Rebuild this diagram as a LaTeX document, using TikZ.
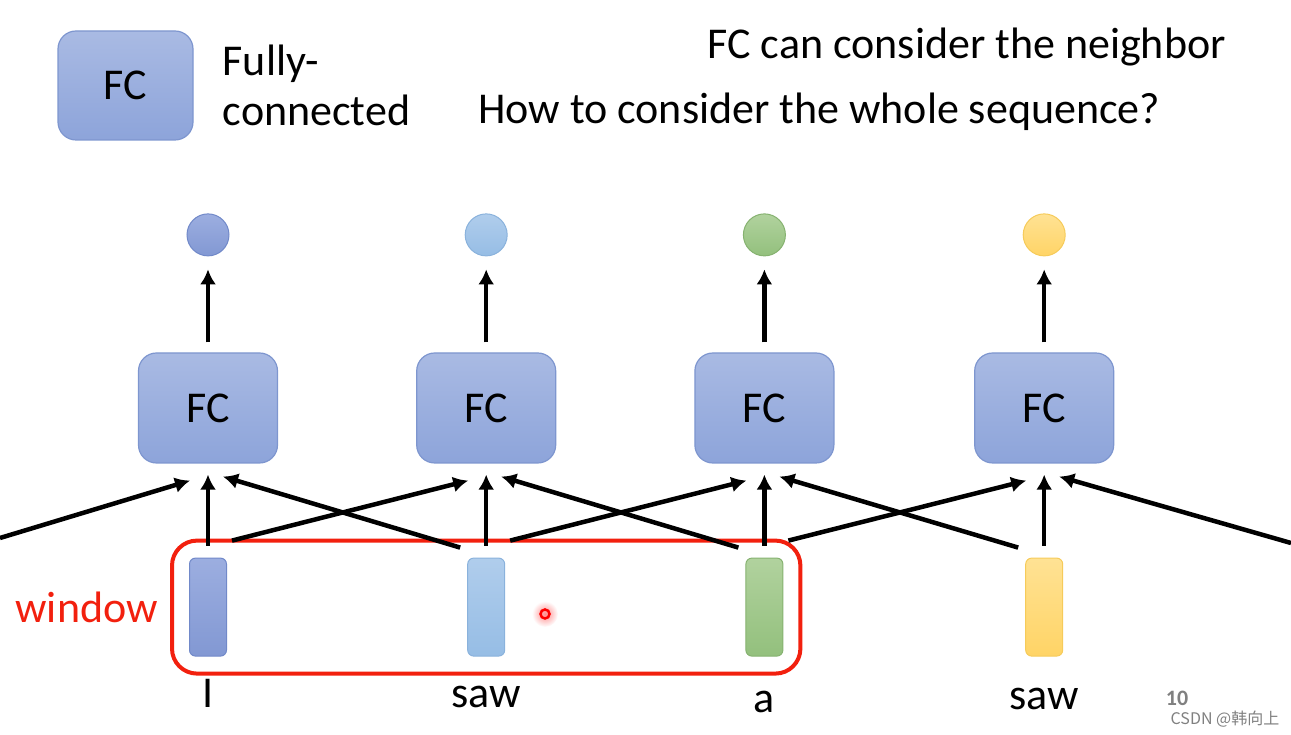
\documentclass[tikz,border=0pt]{standalone}
\usepackage{fontspec}
\setmainfont{Carlito}
\newfontfamily\cjkfont{Noto Sans CJK SC}
\usepackage{tikz}
\usetikzlibrary{positioning,fit,arrows.meta}
\definecolor{fctop}{HTML}{A9BAE3}
\definecolor{fcbot}{HTML}{8DA4DA}
\definecolor{fcline}{HTML}{7E96CF}
\definecolor{bluetop}{HTML}{9CAEE0}
\definecolor{bluebot}{HTML}{8298D3}
\definecolor{blueline}{HTML}{7189C9}
\definecolor{skytop}{HTML}{B0CDEC}
\definecolor{skybot}{HTML}{96BDE5}
\definecolor{skyline}{HTML}{8AB2DC}
\definecolor{greentop}{HTML}{B1D29E}
\definecolor{greenbot}{HTML}{93C07D}
\definecolor{greenline}{HTML}{86B270}
\definecolor{yellowtop}{HTML}{FFE294}
\definecolor{yellowbot}{HTML}{FFD466}
\definecolor{yellowline}{HTML}{F6CB5A}
\definecolor{winred}{HTML}{F2200E}

\begin{document}
\begin{tikzpicture}[x=1pt, y=1pt]
\tikzstyle{big}=[font=\fontsize{44}{50}\selectfont]
\tikzstyle{fc}=[rectangle, rounded corners=18pt, draw=fcline, line width=1.2pt,
                top color=fctop, bottom color=fcbot, big,
                minimum width=139pt, minimum height=110pt]
\tikzstyle{outdot}=[circle, inner sep=0pt, minimum size=42pt, line width=1pt]
\tikzstyle{vec}=[rectangle, rounded corners=6pt, inner sep=0pt,
                 minimum width=37pt, minimum height=98pt, line width=1pt]
\tikzstyle{wire}=[line width=4.5pt, -{Latex[length=15pt,width=16pt]}]
\tikzstyle{word}=[big, anchor=base, inner sep=0pt]
\useasboundingbox (0,0) rectangle (1291,735);

% legend and questions
\node[fc, minimum width=135pt, minimum height=109pt] (key) at (125.5,649.5) {FC};
\node[big, right=29pt of key, align=left, inner sep=0pt] (keytext) {Fully-\\connected};
\node[big, anchor=base east, inner sep=0pt] (q1) at (1226,676) {FC can consider the neighbor};
\node[big, anchor=base west, inner sep=0pt] (q2) at (478,611) {How to consider the whole sequence?};

% FC layers, outputs, inputs
\node[fc] (fc1) at (208,327) {FC};
\node[fc, right=138pt of fc1] (fc2) {FC};
\node[fc, right=138pt of fc2] (fc3) {FC};
\node[fc, right=139.6pt of fc3] (fc4) {FC};
\node[outdot, draw=blueline, top color=bluetop, bottom color=bluebot, above=96pt of fc1] (o1) {};
\node[outdot, draw=skyline, top color=skytop, bottom color=skybot, above=96pt of fc2] (o2) {};
\node[outdot, draw=greenline, top color=greentop, bottom color=greenbot, above=96pt of fc3] (o3) {};
\node[outdot, draw=yellowline, top color=yellowtop, bottom color=yellowbot, above=96pt of fc4] (o4) {};
\node[vec, draw=blueline, top color=bluetop, bottom color=bluebot, below=94pt of fc1] (v1) {};
\node[vec, draw=skyline, top color=skytop, bottom color=skybot, below=94pt of fc2] (v2) {};
\node[vec, draw=greenline, top color=greentop, bottom color=greenbot, below=94pt of fc3] (v3) {};
\node[vec, draw=yellowline, top color=yellowtop, bottom color=yellowbot, below=94pt of fc4] (v4) {};
\node[word] (w1) at (208,27) {I};
\node[word] (w2) at (486,27) {saw};
\node[word] (w3) at (764,22) {a};
\node[word] (w4) at (1044,25) {saw};

% window
\node[draw=winred, line width=4pt, rounded corners=25pt, inner sep=17pt, fit=(v1)(v3)] (win) {};
\node[big, text=winred, left=12pt of win, inner sep=0pt] (wintext) {window};
\node[circle, inner sep=0pt, minimum size=26pt, inner color=red!45, outer color=white] (glow) at (545,121) {};
\node[circle, draw=red, line width=2.5pt, inner sep=0pt, minimum size=9pt] (dot) at (glow) {};

% connections
\draw[wire] ([yshift=10pt]fc1.north) -- ([yshift=-13pt]o1.south);
\draw[wire] ([yshift=10pt]fc2.north) -- ([yshift=-13pt]o2.south);
\draw[wire] ([yshift=10pt]fc3.north) -- ([yshift=-13pt]o3.south);
\draw[wire] ([yshift=10pt]fc4.north) -- ([yshift=-13pt]o4.south);
\draw[wire] ([yshift=12pt]v1.north) -- ([yshift=-11pt]fc1.south);
\draw[wire] ([yshift=12pt]v2.north) -- ([yshift=-11pt]fc2.south);
\draw[wire] ([yshift=12pt]v3.north) -- ([yshift=-11pt]fc3.south);
\draw[wire] ([yshift=12pt]v4.north) -- ([yshift=-11pt]fc4.south);
\coordinate (lin) at (0,197);
\coordinate (rin) at (1291,192);
\draw[wire] (lin) -- ([shift={(-18,-17)}]fc1.south);
\draw[wire] ([shift={(24,17)}]v1.north) -- ([shift={(-18,-17)}]fc2.south);
\draw[wire] ([shift={(24,17)}]v2.north) -- ([shift={(-18,-17)}]fc3.south);
\draw[wire] ([shift={(24,17)}]v3.north) -- ([shift={(-18,-17)}]fc4.south);
\draw[wire] ([shift={(-26,10)}]v2.north) -- ([shift={(15,-13)}]fc1.south);
\draw[wire] ([shift={(-26,10)}]v3.north) -- ([shift={(15,-13)}]fc2.south);
\draw[wire] ([shift={(-26,10)}]v4.north) -- ([shift={(15,-13)}]fc3.south);
\draw[wire] (rin) -- ([shift={(15,-13)}]fc4.south);

% page number and mark
\node[text=gray, font=\fontsize{22}{22}\selectfont\bfseries, inner sep=0pt] (page) at (1177,37) {10};
\node[text=gray, font=\cjkfont\fontsize{16}{16}\selectfont, inner sep=0pt] (mark) at (1225,16) {CSDN @韩向上};
\end{tikzpicture}
\end{document}
